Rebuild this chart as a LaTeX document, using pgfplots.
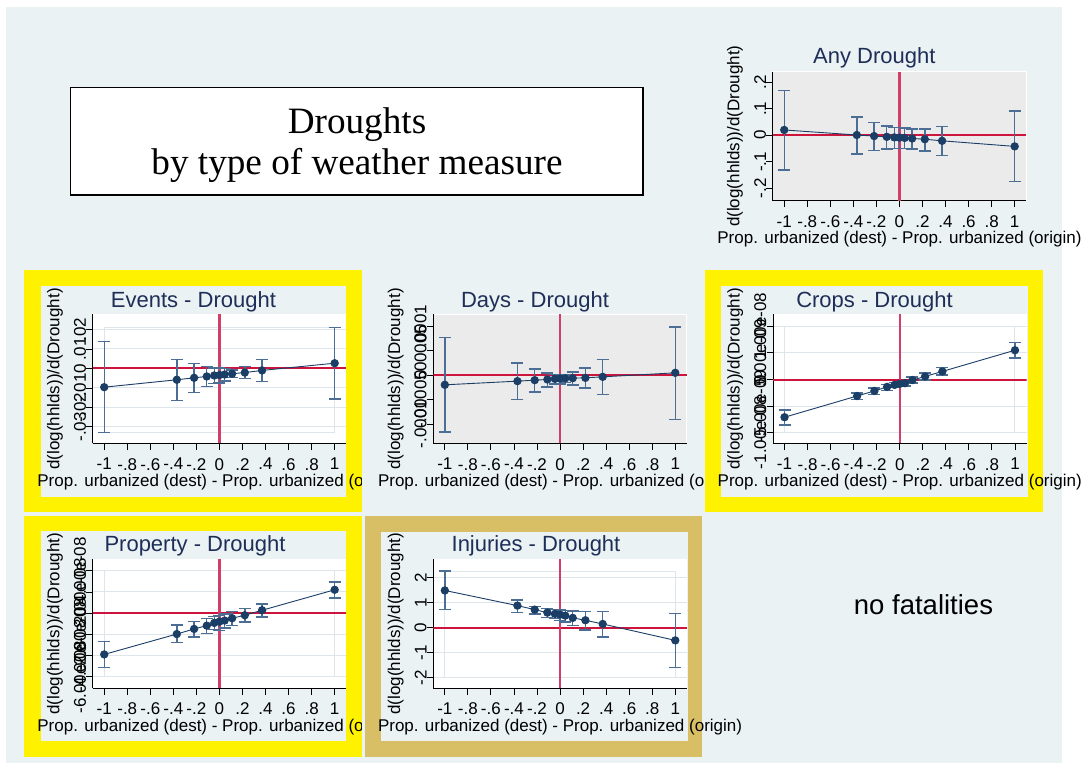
\documentclass[border=0pt]{standalone}
\usepackage{pgfplots}
\pgfplotsset{compat=1.18}
\usepackage{pgfplotstable}
\usepackage{fontspec}
\setmainfont{Liberation Sans}
\newfontfamily\seriffont{Liberation Serif}

\definecolor{bgcol}{RGB}{234,242,243}
\definecolor{plotgray}{RGB}{235,235,235}
\definecolor{gridcol}{RGB}{222,230,235}
\definecolor{navy}{RGB}{26,62,102}
\definecolor{ebcol}{RGB}{77,110,148}
\definecolor{hredcol}{RGB}{205,20,60}
\definecolor{vredcol}{RGB}{212,60,105}
\definecolor{titlecol}{RGB}{30,46,88}
\definecolor{khaki}{RGB}{216,190,100}

\newcommand\tfont{\fontsize{17}{20}\selectfont}
\newcommand\titlefont{\fontsize{22}{26}\selectfont}

\pgfplotstableread{
x y hi lo
-1 0.020 0.169 -0.131
-0.37 0.001 0.069 -0.071
-0.22 -0.003 0.048 -0.058
-0.11 -0.006 0.035 -0.052
-0.045 -0.008 0.030 -0.050
0 -0.009 0.029 -0.049
0.045 -0.010 0.027 -0.050
0.11 -0.012 0.024 -0.052
0.22 -0.015 0.024 -0.060
0.37 -0.021 0.032 -0.077
1 -0.042 0.092 -0.174
}\tabAny

\pgfplotstableread{
x y hi lo
-1 -0.0096 0.0139 -0.0330
-0.37 -0.0058 0.0046 -0.0163
-0.22 -0.0048 0.0026 -0.0122
-0.11 -0.0041 0.0010 -0.0094
-0.045 -0.0036 0.0003 -0.0077
0 -0.0034 0.0002 -0.0074
0.045 -0.0031 0.0000 -0.0065
0.11 -0.0027 -0.0008 -0.0046
0.22 -0.0021 0.0009 -0.0051
0.37 -0.0010 0.0046 -0.0068
1 0.0027 0.0210 -0.0156
}\tabEvents

\pgfplotstableread{
x y hi lo
-1 -1.97e-5 7.68e-5 -1.163e-4
-0.37 -1.22e-5 2.45e-5 -4.96e-5
-0.22 -1.02e-5 1.22e-5 -3.40e-5
-0.11 -8.8e-6 4.1e-6 -2.38e-5
-0.045 -7.5e-6 1.4e-6 -1.84e-5
0 -6.8e-6 0.7e-6 -1.77e-5
0.045 -6.4e-6 0.7e-6 -1.50e-5
0.11 -6.1e-6 6.1e-6 -1.97e-5
0.22 -5.4e-6 1.50e-5 -2.65e-5
0.37 -3.4e-6 3.20e-5 -3.94e-5
1 4.8e-6 9.86e-5 -9.04e-5
}\tabDays

\pgfplotstableread{
x y hi lo
-1 -7.09e-9 -5.76e-9 -8.54e-9
-0.37 -3.10e-9 -2.53e-9 -3.80e-9
-0.22 -2.15e-9 -1.58e-9 -2.78e-9
-0.11 -1.39e-9 -0.89e-9 -2.03e-9
-0.045 -1.01e-9 -0.57e-9 -1.52e-9
0 -0.82e-9 -0.38e-9 -1.33e-9
0.045 -0.70e-9 -0.19e-9 -1.20e-9
0.11 -0.10e-9 0.44e-9 -0.63e-9
0.22 0.57e-9 1.20e-9 -0.06e-9
0.37 1.52e-9 2.22e-9 0.82e-9
1 5.50e-9 6.90e-9 4.05e-9
}\tabCrops

\pgfplotstableread{
x y hi lo
-1 -3.88e-8 -2.68e-8 -5.11e-8
-0.37 -1.96e-8 -1.10e-8 -2.78e-8
-0.22 -1.48e-8 -0.76e-8 -2.24e-8
-0.11 -1.17e-8 -0.47e-8 -1.89e-8
-0.045 -0.91e-8 -0.28e-8 -1.55e-8
0 -0.79e-8 -0.19e-8 -1.64e-8
0.045 -0.69e-8 -0.06e-8 -1.39e-8
0.11 -0.47e-8 0.16e-8 -1.17e-8
0.22 -0.19e-8 0.44e-8 -0.82e-8
0.37 0.28e-8 0.88e-8 -0.35e-8
1 2.21e-8 2.93e-8 1.42e-8
}\tabProperty

\pgfplotstableread{
x y hi lo
-1 1.485 2.26 0.72
-0.37 0.88 1.10 0.615
-0.22 0.72 0.856 0.55
-0.11 0.60 0.776 0.415
-0.045 0.55 0.736 0.36
0 0.52 0.71 0.28
0.045 0.48 0.68 0.23
0.11 0.39 0.67 0.08
0.22 0.295 0.656 -0.094
0.37 0.147 0.642 -0.375
1 -0.508 0.575 -1.59
}\tabInjuries

\pgfplotsset{
  panel/.style={
    scale only axis, width=253.5pt, height=129pt,
    anchor=south west,
    xmin=-1.1, xmax=1.1,
    axis lines*=left,
    axis line style={black, line width=0.9pt},
    tick align=outside, major tick length=6.5pt,
    tick style={black, line width=0.9pt},
    xtick={-1,-0.8,-0.6,-0.4,-0.2,0,0.2,0.4,0.6,0.8,1},
    xticklabels={-1,-.8,-.6,-.4,-.2,0,.2,.4,.6,.8,1},
    scaled y ticks=false, scaled x ticks=false,
    ticklabel style={font=\tfont, text=black},
    xticklabel style={anchor=north, inner sep=0pt, yshift=-8pt},
    yticklabel style={rotate=90, anchor=south, inner sep=0pt},
    xlabel={Prop. urbanized (dest) - Prop. urbanized (origin)},
    ylabel={d(log(hhlds))/d(Drought)},
    every axis x label/.style={at={(axis description cs:0.5,-0.2977)}, anchor=center, font=\tfont},
    every axis y label/.style={at={(axis description cs:-0.1487,0.5)}, rotate=90, anchor=center, font=\tfont},
  },
  graybg/.style={axis background/.style={fill=plotgray, draw=white, line width=1pt}},
  whitebg/.style={axis background/.style={fill=white}, ymajorgrids, grid style={gridcol, line width=1pt}},
  series/.style={navy, line width=0.9pt, mark=*, mark size=3.7pt,
    mark options={fill=navy, draw=navy, solid},
    error bars/y dir=both, error bars/y explicit,
    error bars/error bar style={ebcol, line width=1.4pt},
    error bars/error mark options={ebcol, line width=1.4pt, mark size=6pt, rotate=90}},
}

\newcommand{\redlines}[2]{%
  \addplot[draw=hredcol, line width=2pt, mark=none, forget plot] coordinates {(-1.1,0) (1.1,0)};
  \addplot[draw=vredcol, line width=2.2pt, mark=none, forget plot] coordinates {(0,#1) (0,#2)};}

\begin{document}
\begin{tikzpicture}[flip/.style={shift={(0pt,768pt)},x=1pt,y=-1pt}]
\useasboundingbox (0pt,0pt) rectangle (1087pt,768pt);
\begin{scope}[flip]
  \fill[bgcol] (6,7) rectangle (1061.7,763);
  \filldraw[fill=white,draw=black,line width=1.5pt] (70.7,87.7) rectangle (643,195);
  \node[font=\seriffont\fontsize{37.2}{41}\selectfont, align=center] at (357,145.5) {Droughts\\by type of weather measure};
  \node[anchor=base, font=\titlefont, text=titlecol] at (874.3,63.3) {Any Drought};
\end{scope}

% Any Drought
\begin{axis}[panel, graybg, at={(772.7pt,567.3pt)},
  ymin=-0.247, ymax=0.240, ytick={-0.2,-0.1,0,0.1,0.2}, yticklabels={-.2,-.1,0,.1,.2}]
\redlines{-0.247}{0.240}
\addplot[series] table[x=x, y=y, y error plus expr=\thisrow{hi}-\thisrow{y}, y error minus expr=\thisrow{y}-\thisrow{lo}] {\tabAny};
\end{axis}

% Events
\begin{scope}[flip]
  \fill[yellow] (24,270) rectangle (362.3,512.3);
  \fill[bgcol] (40.7,286) rectangle (346,496.7);
  \node[anchor=base, font=\titlefont, text=titlecol] at (193.4,307.3) {Events - Drought};
\end{scope}
\begin{axis}[panel, whitebg, at={(92.7pt,324.5pt)},
  ymin=-0.0385, ymax=0.0277, ytick={-0.03,-0.02,-0.01,0,0.01,0.02}, yticklabels={-.03,-.02,-.01,0,.01,.02}]
\draw[gridcol, line width=1pt] (axis cs:-1,-0.033) rectangle (axis cs:1,0.021);
\redlines{-0.0385}{0.0277}
\addplot[series] table[x=x, y=y, y error plus expr=\thisrow{hi}-\thisrow{y}, y error minus expr=\thisrow{y}-\thisrow{lo}] {\tabEvents};
\end{axis}

% Days
\begin{scope}[flip]
  \fill[bgcol] (362.3,270) rectangle (704,512.3);
  \node[anchor=base, font=\titlefont, text=titlecol] at (535,307.3) {Days - Drought};
\end{scope}
\begin{axis}[panel, graybg, at={(433.3pt,324.5pt)},
  ymin=-1.394e-4, ymax=1.238e-4, ytick={-1e-4,-5e-5,0,5e-5,1e-4}, yticklabels={-.0001,-.00005,0,.00005,.0001}]
\redlines{-1.394e-4}{1.238e-4}
\addplot[series] table[x=x, y=y, y error plus expr=\thisrow{hi}-\thisrow{y}, y error minus expr=\thisrow{y}-\thisrow{lo}] {\tabDays};
\end{axis}

% Crops
\begin{scope}[flip]
  \fill[yellow] (705,270) rectangle (1042.7,512.3);
  \fill[bgcol] (721,286) rectangle (1027.7,496.7);
  \node[anchor=base, font=\titlefont, text=titlecol] at (874.5,307.3) {Crops - Drought};
\end{scope}
\begin{axis}[panel, whitebg, at={(773pt,324.5pt)},
  ymin=-1.203e-8, ymax=1.222e-8, ytick={-1e-8,-5e-9,0,5e-9,1e-8}, yticklabels={-1.00e-08,-5.00e-09,0,5.00e-09,1.00e-08}]
\draw[gridcol, line width=1pt] (axis cs:-1,-1e-8) rectangle (axis cs:1,1e-8);
\redlines{-1.203e-8}{1.222e-8}
\addplot[series] table[x=x, y=y, y error plus expr=\thisrow{hi}-\thisrow{y}, y error minus expr=\thisrow{y}-\thisrow{lo}] {\tabCrops};
\end{axis}

% Property
\begin{scope}[flip]
  \fill[yellow] (24,515.7) rectangle (362.3,757);
  \fill[bgcol] (40.7,531.5) rectangle (346,741);
  \node[anchor=base, font=\titlefont, text=titlecol] at (195,551.7) {Property - Drought};
\end{scope}
\begin{axis}[panel, whitebg, at={(92.7pt,79.7pt)},
  ymin=-7.07e-8, ymax=5.08e-8, ytick={-6e-8,-4e-8,-2e-8,0,2e-8,4e-8}, yticklabels={-6.00e-08,-4.00e-08,-2.00e-08,0,2.00e-08,4.00e-08}]
\draw[gridcol, line width=1pt] (axis cs:-1,-6e-8) rectangle (axis cs:1,4e-8);
\redlines{-7.07e-8}{5.08e-8}
\addplot[series] table[x=x, y=y, y error plus expr=\thisrow{hi}-\thisrow{y}, y error minus expr=\thisrow{y}-\thisrow{lo}] {\tabProperty};
\end{axis}

% Injuries
\begin{scope}[flip]
  \fill[bgcol] (362.3,513) rectangle (365,760);
  \fill[khaki] (365,515.7) rectangle (702.3,757);
  \fill[bgcol] (381,531.7) rectangle (687.7,741);
  \node[anchor=base, font=\titlefont, text=titlecol] at (536,551.7) {Injuries - Drought};
  \node[anchor=base, font=\fontsize{27.5}{32}\selectfont, text=black] at (923.5,615) {no fatalities};
\end{scope}
\begin{axis}[panel, whitebg, at={(433.3pt,79.7pt)},
  ymin=-2.421, ymax=2.729, ytick={-2,-1,0,1,2}, yticklabels={-2,-1,0,1,2}]
\draw[gridcol, line width=1pt] (axis cs:-1,-2) rectangle (axis cs:1,2.26);
\redlines{-2.421}{2.729}
\addplot[series] table[x=x, y=y, y error plus expr=\thisrow{hi}-\thisrow{y}, y error minus expr=\thisrow{y}-\thisrow{lo}] {\tabInjuries};
\end{axis}
\end{tikzpicture}
\end{document}
